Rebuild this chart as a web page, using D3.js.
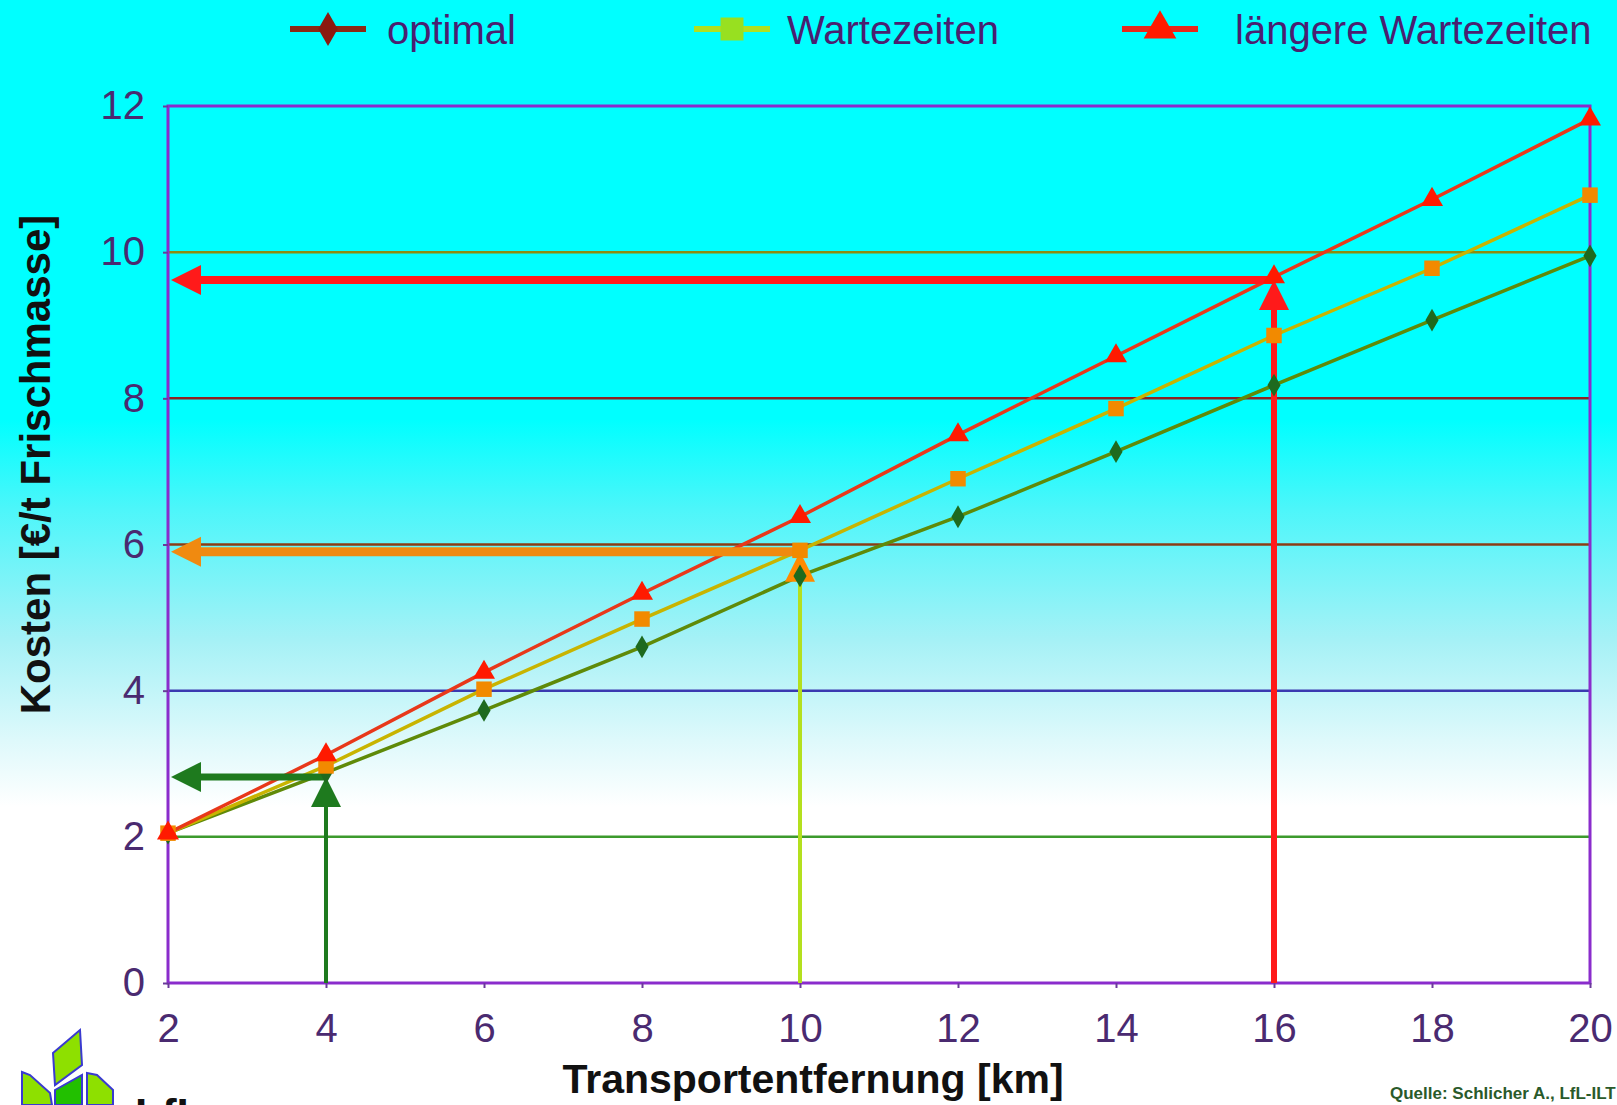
<!DOCTYPE html>
<html>
<head>
<meta charset="utf-8">
<script src="https://cdn.jsdelivr.net/npm/d3@7"></script>
<style>
  html, body { margin: 0; padding: 0; background: #fff; }
  svg { display: block; font-family: "Liberation Sans", Arial, sans-serif; }
</style>
</head>
<body>
<div id="chart"></div>
<script>
// Daten
const km = [2, 4, 6, 8, 10, 12, 14, 16, 18, 20];
const optimal = [2.05, 2.88, 3.73, 4.6, 5.57, 6.38, 7.27, 8.18, 9.07, 9.95];
const wartezeiten = [2.05, 2.97, 4.02, 4.98, 5.92, 6.9, 7.86, 8.86, 9.78, 10.78];
const laengere = [2.05, 3.12, 4.25, 5.33, 6.38, 7.5, 8.58, 9.66, 10.72, 11.82];
const seriesNames = ["optimal", "Wartezeiten", "längere Wartezeiten"];
const yTicks = [0, 2, 4, 6, 8, 10, 12];
const xTicks = [2, 4, 6, 8, 10, 12, 14, 16, 18, 20];
const gridValues = [2, 4, 6, 8, 10];

// Ablesehilfen (Pfeile)
const readKm = [4, 10, 16];
const readCost = [2.82, 5.9, 9.62];

const W = 1617, H = 1105;
const margin = { top: 106, right: 27, bottom: 122, left: 168 };

const svg = d3.select("#chart").append("svg")
  .attr("width", W)
  .attr("height", H);

// Hintergrund: cyan nach weiss
const defs = svg.append("defs");
const grad = defs.append("linearGradient")
  .attr("id", "bg").attr("x1", 0).attr("y1", 0).attr("x2", 0).attr("y2", 1);
[["0%", "#00ffff"], ["38%", "#00ffff"], ["46%", "#4cf6fa"], ["58%", "#a6f1f6"],
 ["67%", "#def9fb"], ["73%", "#ffffff"], ["100%", "#ffffff"]]
  .forEach(([o, c]) => grad.append("stop").attr("offset", o).attr("stop-color", c));
svg.append("rect").attr("width", W).attr("height", H).attr("fill", "url(#bg)");

const x = d3.scaleLinear().domain([2, 20]).range([margin.left, W - margin.right]);
const y = d3.scaleLinear().domain([0, 12]).range([H - margin.bottom, margin.top]);

// Gitterlinien
const gridColor = d3.scaleOrdinal()
  .domain(gridValues)
  .range(["#3c9a2c", "#3a3ab0", "#8c3c14", "#8c2222", "#8c8c10"]);

svg.append("g")
  .selectAll("line")
  .data(gridValues)
  .join("line")
  .attr("x1", x(2)).attr("x2", x(20))
  .attr("y1", d => y(d)).attr("y2", d => y(d))
  .attr("stroke", d => gridColor(d))
  .attr("stroke-width", 2.5);

// Rahmen
svg.append("rect")
  .attr("x", x(2)).attr("y", y(12))
  .attr("width", x(20) - x(2)).attr("height", y(0) - y(12))
  .attr("fill", "none")
  .attr("stroke", "#8a2ccc")
  .attr("stroke-width", 3);

// Achsen
const yAxis = svg.append("g")
  .attr("transform", `translate(${x(2)},0)`)
  .call(d3.axisLeft(y).tickValues(yTicks).tickSize(5).tickPadding(18));
const xAxis = svg.append("g")
  .attr("transform", `translate(0,${y(0)})`)
  .call(d3.axisBottom(x).tickValues(xTicks).tickSize(5).tickPadding(26));

[yAxis, xAxis].forEach(ax => {
  ax.select(".domain").remove();
  ax.selectAll("line").attr("stroke", "#6a3a9a").attr("stroke-width", 2);
  ax.selectAll("text")
    .attr("fill", "#4a2a70")
    .style("font-size", "40px")
    .style("font-family", "'Liberation Sans', Arial, sans-serif");
});

// Achsentitel
svg.append("text")
  .attr("transform", `translate(50,${(y(0) + y(12)) / 2 - 80}) rotate(-90)`)
  .attr("text-anchor", "middle")
  .style("font-size", "42px")
  .style("font-weight", "bold")
  .attr("fill", "#111")
  .text("Kosten [€/t Frischmasse]");

svg.append("text")
  .attr("x", 813).attr("y", 1093)
  .attr("text-anchor", "middle")
  .style("font-size", "41px")
  .style("font-weight", "bold")
  .attr("fill", "#111")
  .text("Transportentfernung [km]");

svg.append("text")
  .attr("x", 1390).attr("y", 1099)
  .style("font-size", "17px")
  .style("font-weight", "bold")
  .attr("fill", "#2a5a2a")
  .text("Quelle: Schlicher A., LfL-ILT");

// Serien
const series = [
  { name: seriesNames[0], values: optimal, line: "#5f8a08", legendLine: "#8b2a14", mark: "#1e6a1e", legendMark: "#8b1a10", symbol: d3.symbolDiamond, size: 150 },
  { name: seriesNames[1], values: wartezeiten, line: "#c8b400", legendLine: "#b0e020", mark: "#f28a00", legendMark: "#98e020", symbol: d3.symbolSquare, size: 240 },
  { name: seriesNames[2], values: laengere, line: "#e8381a", legendLine: "#e8281a", mark: "#ff1a00", legendMark: "#ff1a00", symbol: d3.symbolTriangle, size: 210 }
];

const line = d3.line()
  .x((d, i) => x(km[i]))
  .y(d => y(d));

svg.append("g")
  .selectAll("path")
  .data(series)
  .join("path")
  .attr("d", d => line(d.values))
  .attr("fill", "none")
  .attr("stroke", d => d.line)
  .attr("stroke-width", 3.5);

// Pfeile
const vColors = ["#1e7a1e", "#b4e01e", "#ff1a1a"];
const vHeads = ["#1e7a1e", "#ff8a00", "#ff1a1a"];
const vWidths = [4, 4, 6];
const hColors = ["#1e7a1e", "#f08a10", "#ff1a1a"];
const hWidths = [7, 9, 8];
const headLen = 30, headHalf = 15;

const arrows = svg.append("g");
readKm.forEach((k, i) => {
  const xv = x(k), yv = y(readCost[i]);
  // horizontal zur y-Achse
  arrows.append("line")
    .attr("x1", xv).attr("x2", x(2) + headLen)
    .attr("y1", yv).attr("y2", yv)
    .attr("stroke", hColors[i]).attr("stroke-width", hWidths[i]);
  arrows.append("path")
    .attr("d", `M${x(2) + 3},${yv} L${x(2) + 3 + headLen},${yv - headHalf} L${x(2) + 3 + headLen},${yv + headHalf} Z`)
    .attr("fill", hColors[i]);
  // senkrecht von der x-Achse
  arrows.append("line")
    .attr("x1", xv).attr("x2", xv)
    .attr("y1", y(0)).attr("y2", yv + headLen)
    .attr("stroke", vColors[i]).attr("stroke-width", vWidths[i]);
  arrows.append("path")
    .attr("d", `M${xv},${yv} L${xv - headHalf},${yv + headLen} L${xv + headHalf},${yv + headLen} Z`)
    .attr("fill", vHeads[i]);
});

// Marker
series.forEach(s => {
  svg.append("g")
    .selectAll("path")
    .data(s.values)
    .join("path")
    .attr("transform", (d, i) => `translate(${x(km[i])},${y(d)})`)
    .attr("d", d3.symbol().type(s.symbol).size(s.size))
    .attr("fill", s.mark);
});

// Legende
const legendX = [290, 694, 1122];
const legendTextX = [387, 787, 1235];
const legend = svg.append("g");
series.forEach((s, i) => {
  const g = legend.append("g");
  g.append("line")
    .attr("x1", legendX[i]).attr("x2", legendX[i] + 76)
    .attr("y1", 29).attr("y2", 29)
    .attr("stroke", s.legendLine)
    .attr("stroke-width", 6);
  g.append("path")
    .attr("transform", `translate(${legendX[i] + 38},29)`)
    .attr("d", d3.symbol().type(s.symbol).size(s.size * 2.2))
    .attr("fill", s.legendMark);
  g.append("text")
    .attr("x", legendTextX[i]).attr("y", 44)
    .style("font-size", "40px")
    .attr("fill", "#4a2070")
    .text(s.name);
});

// Logo unten links (angeschnitten)
const logo = svg.append("g").attr("stroke", "#3a3ad0").attr("stroke-width", 2);
logo.append("path").attr("d", "M53,1053 L80,1030 L82,1065 L55,1085 Z").attr("fill", "#8ee000");
logo.append("path").attr("d", "M22,1072 L30,1075 L50,1093 L52,1105 L22,1105 Z").attr("fill", "#8ee000");
logo.append("path").attr("d", "M55,1090 L82,1075 L82,1105 L55,1105 Z").attr("fill", "#22c000");
logo.append("path").attr("d", "M87,1073 L97,1075 L113,1090 L113,1105 L87,1105 Z").attr("fill", "#8ee000");
svg.append("text")
  .attr("x", 135).attr("y", 1130)
  .style("font-size", "44px").style("font-weight", "bold")
  .attr("fill", "#111")
  .text("LfL");
</script>
</body>
</html>
